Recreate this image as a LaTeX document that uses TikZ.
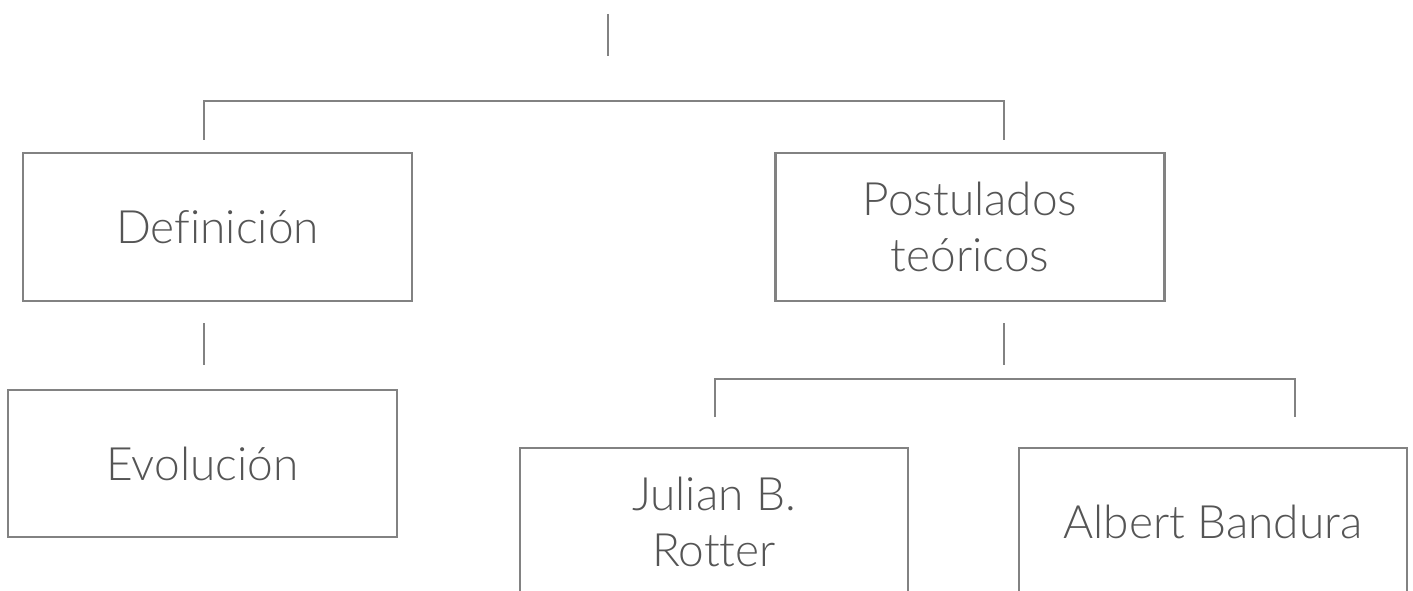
\documentclass[tikz,border=0pt]{standalone}
\usepackage{fontspec}
\setmainfont{Lato Light}[Ligatures={NoCommon}]
\definecolor{linegray}{RGB}{130,130,130}
\definecolor{textgray}{RGB}{85,85,85}
\begin{document}
\begin{tikzpicture}[x=1pt,y=1pt,
  box/.style={draw=linegray, line width=2.5pt, rectangle, inner sep=0pt,
    minimum width=389pt, minimum height=148pt, text=textgray,
    font=\fontsize{46}{56}\selectfont, align=center},
  one/.style={text height=33pt, text depth=0pt},
  two/.style={text height=89pt, text depth=0pt},
  conn/.style={draw=linegray, line width=2.5pt}]
\useasboundingbox (0,0) rectangle (1413,-591);
\clip (0,0) rectangle (1413,-591);
% boxes
\node[box, one] (def) at (217.5,-227) {Definición};
\node[box, two] (post) at (970,-227) {Postulados\\teóricos};
\node[box, one, minimum height=147pt] (evo) at (202.5,-463.5) {Evolución};
\node[box, two, minimum width=388pt] (jul) at (714,-522) {Julian B.\\Rotter};
\node[box, one, minimum width=388pt] (alb) at (1213,-522) {Albert Bandura};
% connector ends
\coordinate (t1) at (608,-14);
\coordinate (t2) at (608,-56);
\coordinate (aL) at (204,-140);
\coordinate (aR) at (1004,-140);
\coordinate (dl1) at (204,-323);
\coordinate (dl2) at (204,-365);
\coordinate (pl1) at (1004,-323);
\coordinate (pl2) at (1004,-365);
\coordinate (bL) at (715,-417);
\coordinate (bR) at (1295,-417);
% connectors
\draw[conn] (t1) -- (t2);
\draw[conn] (aL) -- ++(0,39) -| (aR);
\draw[conn] (dl1) -- (dl2);
\draw[conn] (pl1) -- (pl2);
\draw[conn] (bL) -- ++(0,38) -| (bR);
\end{tikzpicture}
\end{document}
